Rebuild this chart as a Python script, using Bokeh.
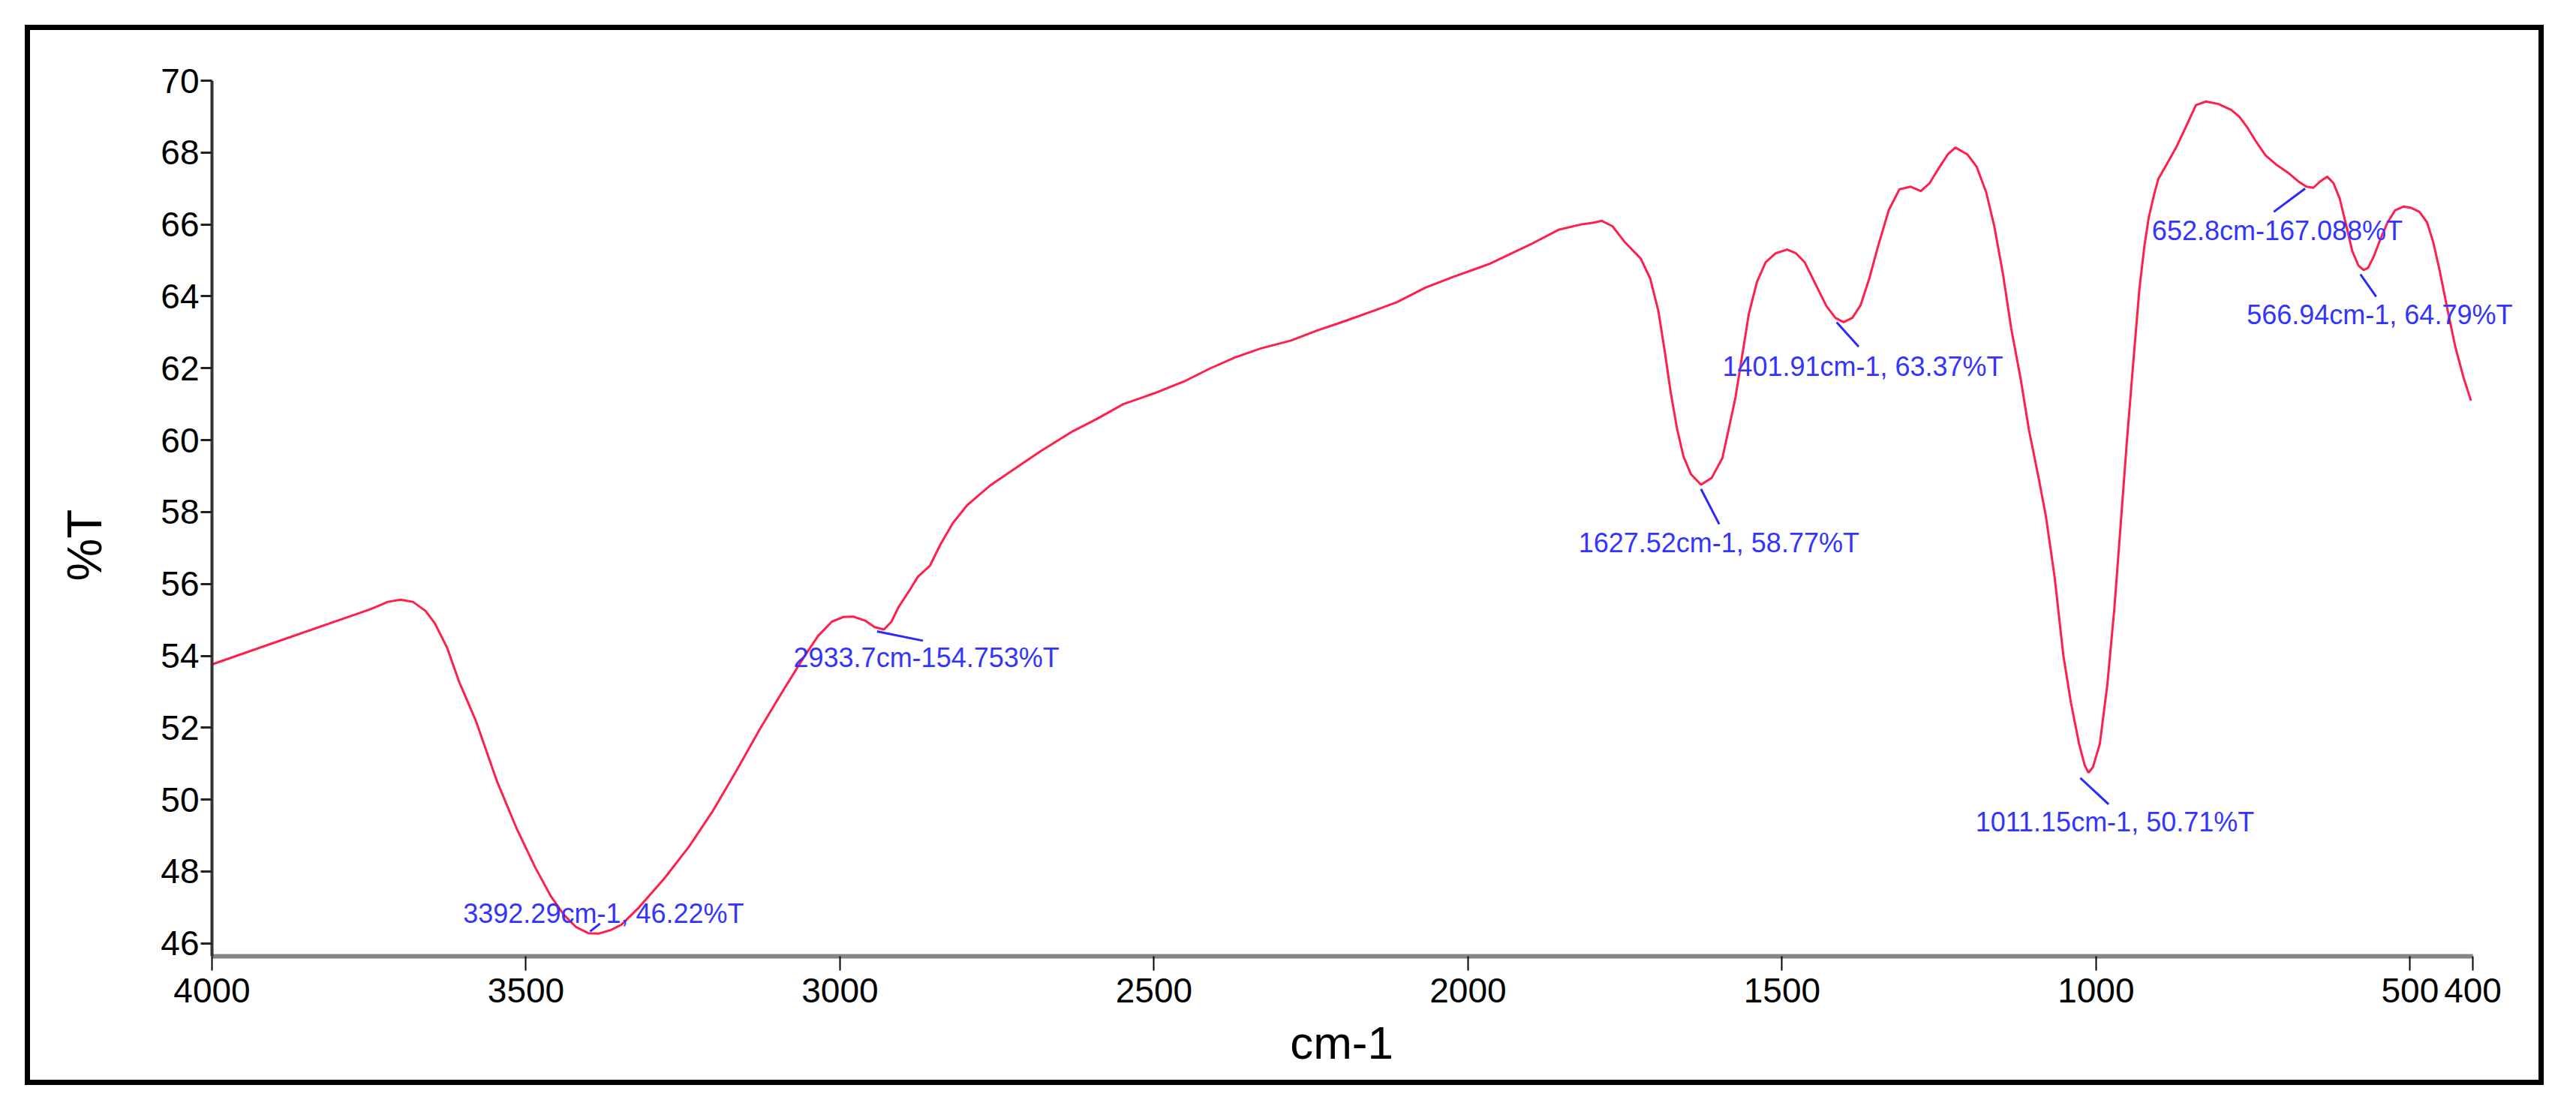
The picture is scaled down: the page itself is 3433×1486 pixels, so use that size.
from bokeh.plotting import figure
from bokeh.models import Range1d, FixedTicker, ColumnDataSource
from bokeh.core.properties import value
from bokeh.embed import file_html
from bokeh.resources import INLINE

# ---- spectrum (wavenumber cm-1, %T) ----
wavenumber = [4000, 3900, 3800, 3750, 3720, 3700, 3680, 3660, 3645, 3625, 3607, 3580,
              3546, 3515, 3485, 3460, 3440, 3420, 3400, 3385, 3365, 3348, 3320, 3280,
              3240, 3203, 3165, 3128, 3090, 3058, 3035, 3013, 2995, 2979, 2960, 2945,
              2930, 2918, 2907, 2890, 2876, 2857, 2840, 2820, 2797, 2760, 2718, 2680,
              2629, 2590, 2549, 2500, 2450, 2410, 2371, 2330, 2282, 2240, 2193, 2150,
              2113, 2068, 2024, 1990, 1965, 1930, 1900, 1856, 1820, 1800, 1787, 1770,
              1750, 1725, 1710, 1697, 1687, 1677, 1667, 1657, 1645, 1629, 1612, 1595,
              1585, 1574, 1563, 1553, 1540, 1526, 1510, 1492, 1478, 1464, 1447, 1429,
              1415, 1402, 1388, 1375, 1361, 1347, 1330, 1313, 1295, 1279, 1265, 1251,
              1236, 1224, 1205, 1190, 1175, 1162, 1148, 1135, 1120, 1107, 1092, 1080,
              1066, 1052, 1040, 1027, 1018, 1012, 1005, 994, 982, 971, 961, 951,
              941, 931, 923, 916, 908, 901, 885, 871, 856, 841, 825, 805,
              785, 772, 760, 745, 730, 712, 695, 678, 665, 654, 643, 632,
              622, 612, 602, 592, 582, 574, 567, 558, 547, 536, 524, 510,
              498, 485, 473, 463, 453, 440, 428, 415, 403]
transmittance = [53.76, 54.37, 54.98, 55.28, 55.50, 55.56, 55.50, 55.25, 54.90, 54.20, 53.30, 52.20,
                 50.50, 49.20, 48.10, 47.30, 46.80, 46.45, 46.28, 46.27, 46.37, 46.52, 47.00, 47.80,
                 48.70, 49.67, 50.80, 51.95, 53.05, 53.95, 54.55, 54.95, 55.08, 55.09, 54.98, 54.80,
                 54.73, 54.95, 55.35, 55.80, 56.20, 56.50, 57.10, 57.70, 58.20, 58.75, 59.25, 59.70,
                 60.25, 60.60, 61.00, 61.30, 61.65, 62.00, 62.30, 62.55, 62.77, 63.05, 63.33, 63.60,
                 63.84, 64.24, 64.54, 64.75, 64.91, 65.20, 65.45, 65.85, 66.00, 66.05, 66.10, 65.95,
                 65.50, 65.05, 64.50, 63.60, 62.50, 61.30, 60.30, 59.55, 59.05, 58.76, 58.95, 59.50,
                 60.30, 61.20, 62.40, 63.50, 64.40, 64.95, 65.20, 65.30, 65.20, 64.95, 64.35, 63.72,
                 63.40, 63.28, 63.40, 63.75, 64.50, 65.40, 66.40, 66.98, 67.05, 66.93, 67.15, 67.55,
                 67.95, 68.14, 67.95, 67.60, 66.90, 65.95, 64.60, 63.10, 61.70, 60.30, 59.00, 57.90,
                 56.20, 54.00, 52.70, 51.55, 50.95, 50.75, 50.90, 51.55, 53.20, 55.28, 57.60, 59.94,
                 62.10, 64.20, 65.40, 66.20, 66.80, 67.26, 67.75, 68.19, 68.75, 69.32, 69.42, 69.35,
                 69.19, 69.00, 68.72, 68.30, 67.92, 67.65, 67.45, 67.20, 67.05, 67.02, 67.20, 67.33,
                 67.15, 66.72, 66.00, 65.26, 64.85, 64.73, 64.79, 65.10, 65.60, 66.05, 66.39, 66.50,
                 66.46, 66.35, 66.06, 65.50, 64.73, 63.60, 62.60, 61.75, 61.10]

# ---- peak annotations ----
peak_labels = ["3392.29cm-1, 46.22%T", "2933.7cm-154.753%T", "1627.52cm-1, 58.77%T",
               "1401.91cm-1, 63.37%T", "1011.15cm-1, 50.71%T", "652.8cm-167.088%T",
               "566.94cm-1, 64.79%T"]
label_wn = [3600, 3074, 1824, 1595, 1192, 911, 760]
label_top = [47.25, 54.38, 57.57, 62.47, 49.80, 66.25, 63.91]
leader_x0 = [3398, 2941, 1629, 1413, 1025, 717, 579]
leader_y0 = [46.33, 54.68, 58.64, 63.28, 50.60, 66.35, 64.61]
leader_x1 = [3382, 2868, 1600, 1378, 980, 667, 554]
leader_y1 = [46.55, 54.42, 57.66, 62.60, 49.87, 67.00, 63.99]

x_ticks = [4000, 3500, 3000, 2500, 2000, 1500, 1000, 500, 400]
y_ticks = [46, 48, 50, 52, 54, 56, 58, 60, 62, 64, 66, 68, 70]

FONT = "Liberation Sans"
NBSP4 = "\u00a0" * 4

p = figure(width=3357, height=1413,
           x_range=Range1d(4000, 320), y_range=Range1d(45.64, 70),
           output_backend="svg", toolbar_location=None,
           min_border_left=242, min_border_right=35,
           min_border_top=67, min_border_bottom=179)
p.margin = (33, 0, 0, 33)
p.styles = {"border": "7px solid black"}
p.outline_line_color = None
p.background_fill_color = "white"
p.border_fill_color = "white"
p.xgrid.visible = False
p.ygrid.visible = False

# spectrum
p.line(wavenumber, transmittance, line_color="#ff1f4b", line_width=3)

# leaders and labels
p.segment(x0=leader_x0, y0=leader_y0, x1=leader_x1, y1=leader_y1,
          line_color="#2a2aff", line_width=3)
src = ColumnDataSource(dict(x=label_wn, y=label_top, t=peak_labels))
p.text(x="x", y="y", text="t", source=src, text_font=value(FONT),
       text_font_size="36px", text_color="#3434ff",
       text_align="left", text_baseline="top")

# axes
xa = p.xaxis[0]
xa.ticker = FixedTicker(ticks=x_ticks)
xa.bounds = (400, 4000)
xa.axis_label = "cm-1" + NBSP4
xa.axis_label_text_font = FONT
xa.axis_label_text_font_size = "62px"
xa.axis_label_text_font_style = "normal"
xa.axis_label_text_color = "black"
xa.axis_label_standoff = 16
xa.major_label_text_font = FONT
xa.major_label_text_font_size = "46px"
xa.major_label_text_color = "black"
xa.major_label_standoff = 10
xa.major_tick_out = 19
xa.major_tick_in = 0
xa.major_tick_line_color = "black"
xa.major_tick_line_width = 2
xa.minor_tick_line_color = None
xa.axis_line_color = "#858585"
xa.axis_line_width = 6

ya = p.yaxis[0]
ya.ticker = FixedTicker(ticks=y_ticks)
ya.axis_label = "%T" + NBSP4
ya.axis_label_text_font = FONT
ya.axis_label_text_font_size = "64px"
ya.axis_label_text_font_style = "normal"
ya.axis_label_text_color = "black"
ya.axis_label_standoff = 62
ya.major_label_text_font = FONT
ya.major_label_text_font_size = "46px"
ya.major_label_text_color = "black"
ya.major_label_standoff = 2
ya.major_tick_out = 15
ya.major_tick_in = 0
ya.major_tick_line_color = "#222222"
ya.major_tick_line_width = 3
ya.minor_tick_line_color = None
ya.axis_line_color = "#333333"
ya.axis_line_width = 4

open("out.html", "w").write(file_html(p, INLINE))
